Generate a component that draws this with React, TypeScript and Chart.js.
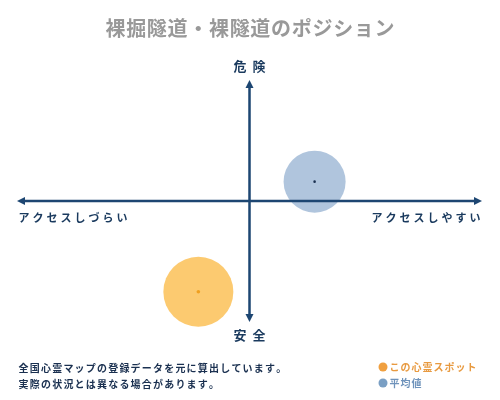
import React, { useEffect, useRef } from "react";
import { Chart, registerables } from "chart.js";

Chart.register(...registerables);

const title = "裸掘隧道・裸隧道のポジション";
const axisTop = "危険";
const axisBottom = "安全";
const axisLeft = "アクセスしづらい";
const axisRight = "アクセスしやすい";
const seriesNames = ["この心霊スポット", "平均値"];
const accessValues = [-0.22, 0.28];
const dangerValues = [-0.75, 0.16];
const bubbleSizes = [35, 31];
const footerLines = [
  "全国心霊マップの登録データを元に算出しています。",
  "実際の状況とは異なる場合があります。",
];

const FONT = '"Noto Sans CJK JP", "Noto Sans", sans-serif';
const NAVY = "#1d4672";

function spaced(ctx: CanvasRenderingContext2D, text: string, x: number, y: number, step: number, align: "left" | "center" | "right") {
  const chars = Array.from(text);
  const total = step * chars.length;
  let start = x;
  if (align === "center") start = x - total / 2;
  if (align === "right") start = x - total;
  ctx.textAlign = "center";
  chars.forEach((c, i) => ctx.fillText(c, start + step * i + step / 2, y));
}

const decorPlugin = {
  id: "decor",
  beforeDraw(chart: any) {
    const ctx = chart.ctx as CanvasRenderingContext2D;
    ctx.save();
    ctx.fillStyle = "#ffffff";
    ctx.fillRect(0, 0, chart.width, chart.height);
    ctx.restore();
  },
  afterDatasetsDraw(chart: any) {
    const ctx = chart.ctx as CanvasRenderingContext2D;
    const xs = chart.scales.x;
    const ys = chart.scales.y;
    const area = chart.chartArea;
    const cx = xs.getPixelForValue(0);
    const cy = ys.getPixelForValue(0);
    ctx.save();
    ctx.strokeStyle = NAVY;
    ctx.fillStyle = NAVY;
    ctx.lineWidth = 2.5;
    ctx.beginPath();
    ctx.moveTo(area.left + 4, cy);
    ctx.lineTo(area.right - 4, cy);
    ctx.moveTo(cx, area.top + 4);
    ctx.lineTo(cx, area.bottom - 4);
    ctx.stroke();
    const h = 8, w = 4;
    ctx.beginPath();
    ctx.moveTo(area.left, cy); ctx.lineTo(area.left + h, cy - w); ctx.lineTo(area.left + h, cy + w); ctx.closePath();
    ctx.moveTo(area.right, cy); ctx.lineTo(area.right - h, cy - w); ctx.lineTo(area.right - h, cy + w); ctx.closePath();
    ctx.moveTo(cx, area.top); ctx.lineTo(cx - w, area.top + h); ctx.lineTo(cx + w, area.top + h); ctx.closePath();
    ctx.moveTo(cx, area.bottom); ctx.lineTo(cx - w, area.bottom - h); ctx.lineTo(cx + w, area.bottom - h); ctx.closePath();
    ctx.fill();

    // axis labels
    ctx.fillStyle = "#1a3a5e";
    ctx.textBaseline = "middle";
    ctx.font = `bold 13px ${FONT}`;
    spaced(ctx, axisTop, cx, area.top - 14, 19, "center");
    spaced(ctx, axisBottom, cx, area.bottom + 13, 19, "center");
    ctx.font = `bold 11px ${FONT}`;
    spaced(ctx, axisLeft, area.left, cy + 17, 14, "left");
    spaced(ctx, axisRight, area.right, cy + 17, 14, "right");

    // title
    ctx.fillStyle = "#999999";
    ctx.font = `bold 20px ${FONT}`;
    spaced(ctx, title, chart.width / 2, 28, 20.7, "center");

    // footer
    ctx.fillStyle = "#1a3050";
    ctx.font = `bold 10px ${FONT}`;
    footerLines.forEach((t, i) => spaced(ctx, t, 18, 368 + i * 16, 11.2, "left"));

    // legend
    const legendColors = ["#f0a040", "#7a9fc4"];
    const textColors = ["#e89a40", "#6f93bb"];
    seriesNames.forEach((n, i) => {
      const y = 367 + i * 16;
      ctx.fillStyle = legendColors[i];
      ctx.beginPath();
      ctx.arc(383, y, 4.5, 0, Math.PI * 2);
      ctx.fill();
      ctx.fillStyle = textColors[i];
      ctx.font = `bold 10px ${FONT}`;
      spaced(ctx, n, 389, y, 11, "left");
    });
    ctx.restore();
  },
};

export default function App() {
  const ref = useRef<HTMLCanvasElement>(null);
  useEffect(() => {
    document.body.style.margin = "0";
    const chart = new Chart(ref.current!, {
      type: "bubble",
      data: {
        datasets: [
          {
            label: "c1",
            data: [{ x: accessValues[0], y: dangerValues[0], r: 1.8 }],
            backgroundColor: "#f0a020",
            borderWidth: 0,
            order: 0,
          },
          {
            label: "c2",
            data: [{ x: accessValues[1], y: dangerValues[1], r: 1.3 }],
            backgroundColor: "#1a3050",
            borderWidth: 0,
            order: 0,
          },
          {
            label: seriesNames[0],
            data: [{ x: accessValues[0], y: dangerValues[0], r: bubbleSizes[0] }],
            backgroundColor: "rgba(252, 196, 96, 0.9)",
            borderWidth: 0,
            order: 1,
          },
          {
            label: seriesNames[1],
            data: [{ x: accessValues[1], y: dangerValues[1], r: bubbleSizes[1] }],
            backgroundColor: "rgba(150, 178, 210, 0.75)",
            borderWidth: 0,
            order: 1,
          },
        ],
      },
      options: {
        animation: false,
        responsive: false,
        clip: false as any,
        layout: { autoPadding: false, padding: { left: 17, right: 18, top: 80, bottom: 78 } },
        scales: {
          x: { type: "linear", min: -1, max: 1, display: false },
          y: { type: "linear", min: -1, max: 1, display: false },
        },
        plugins: { legend: { display: false }, tooltip: { enabled: false }, title: { display: false } },
      },
      plugins: [decorPlugin],
    });
    return () => chart.destroy();
  }, []);
  return (
    <div style={{ width: 500, height: 400 }}>
      <canvas ref={ref} width={500} height={400} style={{ display: "block", width: 500, height: 400 }} />
    </div>
  );
}
